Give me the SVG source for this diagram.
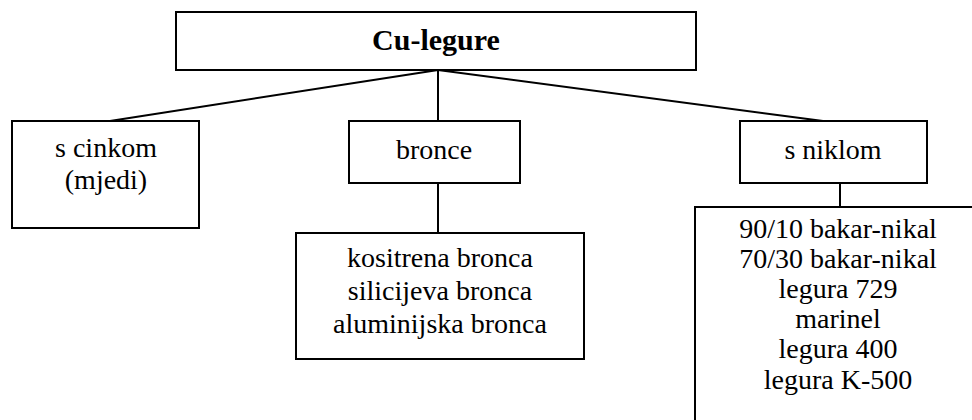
<svg xmlns="http://www.w3.org/2000/svg" width="972" height="420" viewBox="0 0 972 420" font-family="Liberation Serif, Times New Roman, serif">
<style>
.box{fill:#fff;stroke:#000;stroke-width:2}
.ln{stroke:#000;stroke-width:2;fill:none}
.t{font-family:"Liberation Serif",serif;font-size:28px;fill:#000;text-anchor:middle}
.b{font-weight:bold;font-size:30px}
</style>
<rect width="972" height="420" fill="#fff"/>
<g id="connectors">
<line class="ln" x1="438" y1="70" x2="110" y2="121"/>
<line class="ln" x1="438" y1="70" x2="438" y2="121"/>
<line class="ln" x1="438" y1="70" x2="823" y2="121"/>
<line class="ln" x1="438" y1="183" x2="438" y2="233"/>
<line class="ln" x1="840" y1="183" x2="840" y2="207"/>
</g>
<g id="root">
<rect class="box" x="176" y="12" width="520" height="58"/>
<text class="t b" x="436" y="50" font-family="Liberation Serif">Cu-legure</text>
</g>
<g id="zinc">
<rect class="box" x="12" y="121" width="187" height="107"/>
<text class="t" x="106" y="157">s cinkom</text>
<text class="t" x="106" y="189">(mjedi)</text>
</g>
<g id="bronce">
<rect class="box" x="349" y="121" width="171" height="62"/>
<text class="t" x="434" y="159">bronce</text>
</g>
<g id="bronce-list">
<rect class="box" x="296" y="233" width="288" height="126"/>
<text class="t" x="440" y="267">kositrena bronca</text>
<text class="t" x="440" y="300">silicijeva bronca</text>
<text class="t" x="440" y="333">aluminijska bronca</text>
</g>
<g id="nikal">
<rect class="box" x="740" y="121" width="187" height="62"/>
<text class="t" x="833" y="159">s niklom</text>
</g>
<g id="nikal-list">
<rect class="box" x="695" y="207" width="290" height="230"/>
<text class="t" x="838" y="238">90/10 bakar-nikal</text>
<text class="t" x="838" y="268">70/30 bakar-nikal</text>
<text class="t" x="838" y="298">legura 729</text>
<text class="t" x="838" y="328">marinel</text>
<text class="t" x="838" y="358">legura 400</text>
<text class="t" x="838" y="389">legura K-500</text>
</g>
</svg>
